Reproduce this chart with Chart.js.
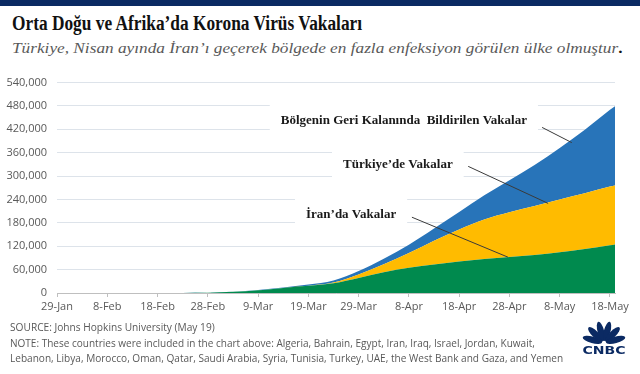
<!DOCTYPE html>
<html>
<head>
<meta charset="utf-8">
<script src="https://cdn.jsdelivr.net/npm/chart.js@4.4.1/dist/chart.umd.min.js"></script>
<style>
  body { margin: 0; background: #fff; }
  #wrap { position: relative; width: 640px; height: 374px; overflow: hidden; background: #fff; }
  #bar { position: absolute; left: 0; top: 0; width: 640px; height: 6px; background: #0b2a63; }
  .fit { position: absolute; white-space: nowrap; transform-origin: 0 0; line-height: 1; }
  #title { left: 12px; top: 12px; font: bold 20px "Liberation Serif", serif; color: #111; }
  #sub { left: 12px; top: 40px; font: italic 15px "Liberation Serif", serif; color: #595959; }
  #sub b { color: #111; font-style: normal; }
  .foot { left: 10px; font: 11px "Open Sans", sans-serif; color: #595959; }
  #chart { position: absolute; left: 0; top: 66px; }
  #logo { position: absolute; left: 578px; top: 318px; }
</style>
</head>
<body>
<div id="wrap">
  <div id="bar"></div>
  <div id="title" class="fit" data-w="350">Orta Doğu ve Afrika’da Korona Virüs Vakaları</div>
  <div id="sub" class="fit" data-w="611">Türkiye, Nisan ayında İran’ı geçerek bölgede en fazla enfeksiyon görülen ülke olmuştur<b>.</b></div>
  <canvas id="chart" width="640" height="254"></canvas>
  <div class="fit foot" style="top:319px" data-w="205">SOURCE: Johns Hopkins University (May 19)</div>
  <div class="fit foot" style="top:335px" data-w="525">NOTE: These countries were included in the chart above: Algeria, Bahrain, Egypt, Iran, Iraq, Israel, Jordan, Kuwait,</div>
  <div class="fit foot" style="top:350px" data-w="553">Lebanon, Libya, Morocco, Oman, Qatar, Saudi Arabia, Syria, Tunisia, Turkey, UAE, the West Bank and Gaza, and Yemen</div>
  <canvas id="logo" width="52" height="40"></canvas>
</div>
<script>
// gün: 29 Ocak = 0
const days = [0, 5, 10, 15, 20, 21, 25, 30, 35, 40, 42, 45, 50, 55, 60, 65, 70, 75, 80, 85, 90, 95, 100, 105, 110, 111];
const iran = [0, 0, 0, 0, 0, 2, 43, 388, 2922, 7161, 9000, 12729, 18407, 24811, 38309, 53183, 64586, 73303, 80868, 87026, 92584, 97424, 104691, 112725, 122492, 124603];
const turkiye = [0, 0, 0, 0, 0, 0, 0, 0, 0, 0, 1, 6, 359, 1872, 9217, 20921, 38226, 61049, 82329, 101790, 114653, 126045, 135569, 143114, 150593, 151615];
const diger = [4, 5, 7, 8, 9, 9, 30, 120, 350, 800, 1100, 1700, 3000, 5500, 9000, 14000, 21000, 31000, 45000, 62000, 82000, 105000, 132000, 163000, 197000, 203000];
const xTickLabels = ['29-Jan', '8-Feb', '18-Feb', '28-Feb', '9-Mar', '19-Mar', '29-Mar', '8-Apr', '18-Apr', '28-Apr', '8-May', '18-May'];

// etiketler: metin, merkez (gün, değer) ve çizgi [gün1, değer1, gün2, değer2]
const notes = [
    {text: 'Bölgenin Geri Kalanında  Bildirilen Vakalar', x: 69, y: 443000, line: [96.5, 425000, 102.4, 386000]},
    {text: 'Türkiye’de Vakalar', x: 67.8, y: 330000, line: [81.8, 325000, 97.7, 230000]},
    {text: 'İran’da Vakalar', x: 58.5, y: 202000, line: [70.6, 194500, 89.7, 92000]},
];

function fitText() {
    document.querySelectorAll('.fit').forEach(el => {
        let w = parseFloat(el.dataset.w);
        el.style.transform = `scaleX(${w / el.offsetWidth})`;
    });
}

const notePlugin = {
    id: 'notes',
    afterDatasetsDraw(chart) {
        const ctx = chart.ctx;
        const xs = chart.scales.x, ys = chart.scales.y;
        ctx.save();
        ctx.font = 'bold 13px "Liberation Serif", serif';
        ctx.textAlign = 'center';
        ctx.textBaseline = 'middle';
        for (const n of notes) {
            let cx = xs.getPixelForValue(n.x), cy = ys.getPixelForValue(n.y);
            let w = ctx.measureText(n.text).width;
            ctx.fillStyle = '#fff';
            ctx.fillRect(cx - w / 2 - 11, cy - 17, w + 22, 34);
            ctx.fillStyle = '#1a1a1a';
            ctx.fillText(n.text, cx, cy);
            ctx.strokeStyle = '#3a3a3a';
            ctx.lineWidth = 1;
            ctx.beginPath();
            ctx.moveTo(xs.getPixelForValue(n.line[0]), ys.getPixelForValue(n.line[1]));
            ctx.lineTo(xs.getPixelForValue(n.line[2]), ys.getPixelForValue(n.line[3]));
            ctx.stroke();
        }
        ctx.restore();
    }
};

function series(label, values, color, fill) {
    return {
        label: label,
        data: values.map((v, i) => ({x: days[i], y: v})),
        backgroundColor: color,
        borderColor: color,
        borderWidth: 0,
        pointRadius: 0,
        fill: fill,
        cubicInterpolationMode: 'monotone',
    };
}

new Chart(document.getElementById('chart').getContext('2d'), {
    type: 'line',
    data: {
        datasets: [
            series('İran', iran, '#008a4e', 'origin'),
            series('Türkiye', turkiye, '#ffbb00', '-1'),
            series('Diğer', diger, '#2874b9', '-1'),
        ]
    },
    plugins: [notePlugin],
    options: {
        responsive: false,
        animation: false,
        layout: {padding: {top: 8, right: 25, left: 0, bottom: 0}},
        plugins: {legend: {display: false}, tooltip: {enabled: false}},
        scales: {
            x: {
                type: 'linear',
                min: 0,
                max: 111,
                afterBuildTicks: (scale) => {
                    scale.ticks = xTickLabels.map((l, i) => ({value: i * 10}));
                },
                afterFit: (scale) => { scale.height = 27; },
                grid: {drawOnChartArea: false, drawTicks: true, tickLength: 4, color: '#bfbfbf'},
                border: {display: true, color: '#bfbfbf'},
                ticks: {
                    autoSkip: false,
                    maxRotation: 0,
                    padding: 3,
                    color: '#595959',
                    font: {family: 'Open Sans', size: 11},
                    callback: (v, i) => xTickLabels[i],
                }
            },
            y: {
                stacked: true,
                min: 0,
                max: 540000,
                afterFit: (scale) => { scale.width = 57; },
                grid: {color: '#dde3ea', drawTicks: false},
                border: {display: false},
                ticks: {
                    stepSize: 60000,
                    padding: 10,
                    color: '#595959',
                    font: {family: 'Open Sans', size: 11},
                    callback: (v) => v.toLocaleString('en-US'),
                }
            }
        }
    }
});

function drawLogo() {
    const ctx = document.getElementById('logo').getContext('2d');
    ctx.fillStyle = '#0b2a63';
    let bx = 26, by = 25;
    for (let i = 0; i < 6; i++) {
        let a = Math.PI + (i + 0.5) * Math.PI / 6;
        ctx.save();
        ctx.translate(bx + Math.cos(a) * 12, by + Math.sin(a) * 12);
        ctx.rotate(a);
        ctx.beginPath();
        ctx.ellipse(0, 0, 10, 3.3, 0, 0, Math.PI * 2);
        ctx.fill();
        ctx.restore();
    }
    ctx.save();
    ctx.font = 'bold 10px "DejaVu Sans", sans-serif';
    ctx.textAlign = 'center';
    ctx.textBaseline = 'alphabetic';
    let w = ctx.measureText('CNBC').width;
    ctx.translate(bx, 36);
    ctx.scale(43 / w, 1);
    ctx.fillText('CNBC', 0, 0);
    ctx.restore();
}

drawLogo();
fitText();
</script>
</body>
</html>
